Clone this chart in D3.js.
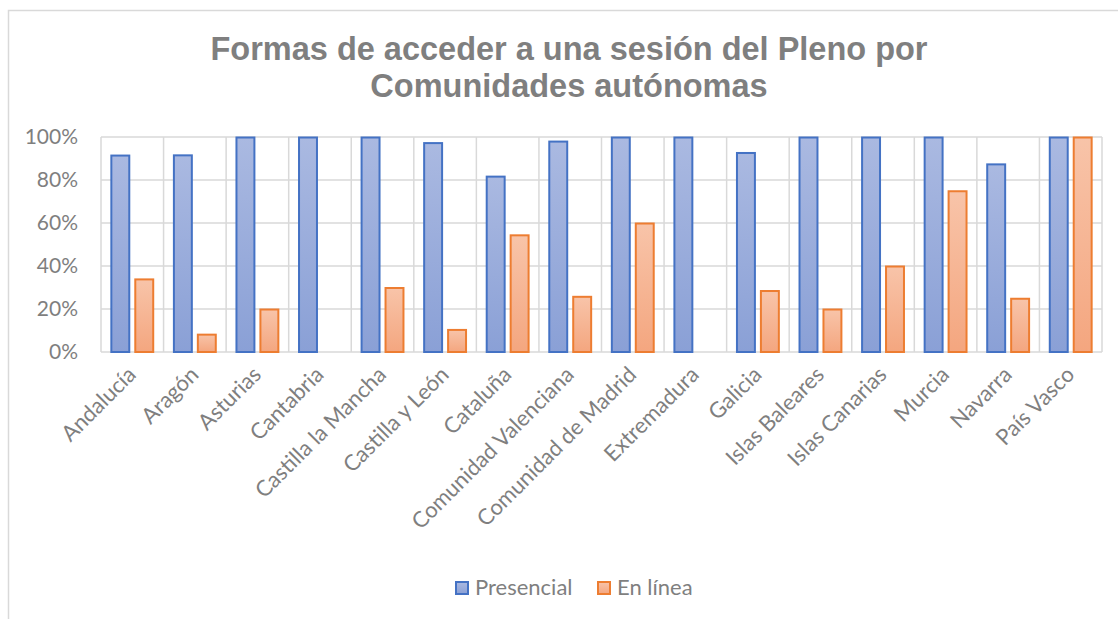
<!DOCTYPE html>
<html>
<head>
<meta charset="utf-8">
<script src="https://cdn.jsdelivr.net/npm/d3@7"></script>
<style>
  body { margin: 0; background: #fff; }
  text { fill: #7f7f7f; }
</style>
</head>
<body>
<script>
// values, in percent
const categories = [
  'Andalucía', 'Aragón', 'Asturias', 'Cantabria', 'Castilla la Mancha',
  'Castilla y León', 'Cataluña', 'Comunidad Valenciana', 'Comunidad de Madrid',
  'Extremadura', 'Galicia', 'Islas Baleares', 'Islas Canarias', 'Murcia',
  'Navarra', 'País Vasco',
];
const series = ['Presencial', 'En línea'];
const presencial = [91.6, 91.7, 100, 100, 100, 97.4, 81.8, 98.1, 100, 100, 92.8, 100, 100, 100, 87.5, 100];
const enLinea = [34, 8.3, 20, 0, 30, 10.5, 54.5, 25.9, 60, 0, 28.6, 20, 40, 75, 25, 100];
const yTicks = [0, 20, 40, 60, 80, 100];
const titleLines = ['Formas de acceder a una sesión del Pleno por', 'Comunidades autónomas'];

const colours = {
  'Presencial': { stroke: '#4472c4', top: '#aab9e1', bottom: '#8aa0d6' },
  'En línea': { stroke: '#ed7d31', top: '#f8c4a9', bottom: '#f4a67f' },
};

const svg = d3.select('body')
  .append('svg')
  .attr('width', 1118)
  .attr('height', 619);

const plot = { left: 101, right: 1102, top: 137, bottom: 352 };

// chart frame (only top and left edges are in view)
svg.append('path')
  .attr('d', 'M8.5,619 V10.5 H1118')
  .attr('fill', 'none')
  .attr('stroke', '#d9d9d9')
  .attr('stroke-width', 1.5);

const defs = svg.append('defs');
series.forEach((s, i) => {
  const grad = defs.append('linearGradient')
    .attr('id', 'grad' + i)
    .attr('x1', 0).attr('y1', 0).attr('x2', 0).attr('y2', 1);
  grad.append('stop').attr('offset', '0%').attr('stop-color', colours[s].top);
  grad.append('stop').attr('offset', '100%').attr('stop-color', colours[s].bottom);
});

// title
svg.append('g').selectAll('text')
  .data(titleLines)
  .enter()
    .append('text')
    .attr('x', 569)
    .attr('y', (d, i) => 60 + i * 37)
    .attr('text-anchor', 'middle')
    .attr('font-family', 'Liberation Sans, Arial, sans-serif')
    .attr('font-weight', 'bold')
    .attr('font-size', 32.5)
    .text(d => d);

const x = d3.scaleBand()
  .domain(categories)
  .range([plot.left, plot.right]);

const xs = d3.scaleBand()
  .domain(series)
  .range([0, x.bandwidth()])
  .paddingInner(0.167)
  .paddingOuter(0.39);

const y = d3.scaleLinear()
  .domain([0, 100])
  .range([plot.bottom, plot.top]);

// grid
const grid = svg.append('g')
  .attr('stroke', '#d9d9d9')
  .attr('stroke-width', 1.5);

grid.selectAll('.hline')
  .data(yTicks)
  .enter()
    .append('line')
    .attr('class', 'hline')
    .attr('x1', plot.left)
    .attr('x2', plot.right)
    .attr('y1', d => y(d))
    .attr('y2', d => y(d));

grid.selectAll('.vline')
  .data(categories.concat(['_end']))
  .enter()
    .append('line')
    .attr('class', 'vline')
    .attr('x1', (d, i) => i < categories.length ? x(d) : plot.right)
    .attr('x2', (d, i) => i < categories.length ? x(d) : plot.right)
    .attr('y1', plot.top)
    .attr('y2', plot.bottom);

// y axis labels
const yAxis = svg.append('g')
  .attr('transform', `translate(${plot.left} 0)`)
  .call(d3.axisLeft(y).tickValues(yTicks).tickFormat(d => d + '%').tickSize(0).tickPadding(23));
yAxis.select('.domain').remove();
yAxis.selectAll('text')
  .attr('font-family', 'Lato, sans-serif')
  .attr('font-size', 21)
  .attr('fill', '#7f7f7f');

// bars
const values = { 'Presencial': presencial, 'En línea': enLinea };
series.forEach((s, si) => {
  const rows = categories.map((c, i) => ({ cat: c, v: values[s][i] })).filter(d => d.v > 0);
  svg.append('g').selectAll('.bar')
    .data(rows)
    .enter()
      .append('rect')
      .attr('class', 'bar')
      .attr('x', d => x(d.cat) + xs(s) + 1)
      .attr('y', d => y(d.v) + 0.5)
      .attr('width', xs.bandwidth() - 2)
      .attr('height', d => y(0) - y(d.v) - 0.5)
      .attr('fill', `url(#grad${si})`)
      .attr('stroke', colours[s].stroke)
      .attr('stroke-width', 2);
});

// x axis labels, rotated
svg.append('g').selectAll('.xlabel')
  .data(categories)
  .enter()
    .append('text')
    .attr('class', 'xlabel')
    .attr('transform', d => `translate(${x(d) + x.bandwidth() / 2 + 5} 376) rotate(-45)`)
    .attr('text-anchor', 'end')
    .attr('font-family', 'Lato, sans-serif')
    .attr('font-size', 22)
    .text(d => d);

// legend
const legendX = [455, 597];
const legend = svg.append('g').selectAll('.legend')
  .data(series)
  .enter()
    .append('g')
    .attr('class', 'legend')
    .attr('transform', (d, i) => `translate(${legendX[i]} 581)`);

legend.append('rect')
  .attr('x', 1)
  .attr('y', 1)
  .attr('width', 12)
  .attr('height', 12)
  .attr('fill', (d, i) => `url(#grad${i})`)
  .attr('stroke', d => colours[d].stroke)
  .attr('stroke-width', 2);

legend.append('text')
  .attr('x', 20)
  .attr('y', 14)
  .attr('font-family', 'Lato, sans-serif')
  .attr('font-size', 22)
  .text(d => d);
</script>
</body>
</html>
